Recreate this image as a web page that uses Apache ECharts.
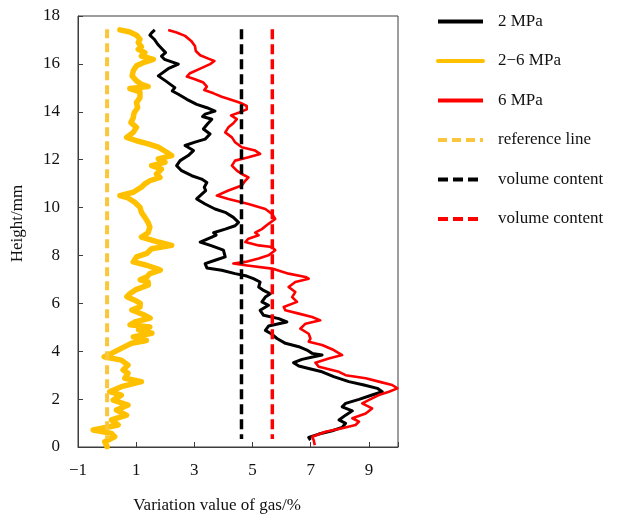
<!DOCTYPE html>
<html>
<head>
<meta charset="utf-8">
<script src="https://cdn.jsdelivr.net/npm/echarts@6/dist/echarts.min.js"></script>
<style>
  html, body { margin: 0; padding: 0; background: #fff; }
  #chart { width: 619px; height: 515px; }
</style>
</head>
<body>
<div id="chart"></div>
<script>
// Gas variation profiles along specimen height (height in mm, variation in %)
const heights2MPa = [17.42, 17.30, 17.20, 17.03, 16.82, 16.61, 16.47, 16.32, 16.19, 15.99, 15.80, 15.50, 15.29, 15.01, 14.87, 14.73, 14.52, 14.31, 14.17, 14.03, 13.90, 13.80, 13.69, 13.49, 13.28, 13.07, 12.86, 12.73, 12.59, 12.38, 12.17, 11.96, 11.75, 11.54, 11.33, 11.19, 11.05, 10.85, 10.71, 10.50, 10.36, 10.15, 9.94, 9.80, 9.59, 9.38, 9.24, 9.10, 8.95, 8.85, 8.77, 8.56, 8.40, 8.22, 7.94, 7.80, 7.66, 7.48, 7.38, 7.24, 7.14, 7.03, 6.89, 6.68, 6.54, 6.40, 6.26, 6.06, 5.92, 5.71, 5.50, 5.36, 5.22, 5.15, 5.05, 4.87, 4.73, 4.53, 4.47, 4.33, 4.19, 4.05, 3.91, 3.84, 3.77, 3.66, 3.52, 3.38, 3.28, 3.14, 2.94, 2.73, 2.59, 2.45, 2.31, 2.17, 1.99, 1.82, 1.68, 1.51, 1.33, 1.13, 0.99, 0.82, 0.68, 0.54, 0.40, 0.29];
const gas2MPa = [1.64, 1.53, 1.47, 1.62, 1.74, 1.90, 2.01, 1.87, 1.97, 2.45, 2.10, 1.76, 2.01, 2.33, 2.24, 2.45, 2.74, 3.08, 3.43, 3.71, 3.37, 3.28, 3.60, 3.45, 3.31, 3.54, 3.37, 3.02, 2.68, 2.97, 2.79, 2.51, 2.39, 2.56, 2.91, 3.25, 3.43, 3.34, 3.39, 3.20, 3.08, 3.37, 3.71, 4.06, 4.34, 4.52, 4.40, 4.06, 3.66, 3.75, 3.60, 3.20, 3.60, 4.00, 4.06, 3.71, 3.37, 3.43, 3.94, 4.40, 4.80, 5.03, 5.26, 5.21, 5.38, 5.61, 5.44, 5.32, 5.55, 5.26, 5.38, 5.90, 6.18, 5.90, 5.55, 5.44, 5.64, 5.84, 5.78, 6.13, 6.59, 6.87, 7.05, 7.39, 7.10, 6.70, 6.41, 6.59, 6.93, 7.39, 7.79, 8.31, 8.83, 9.29, 9.46, 9.11, 8.66, 8.20, 8.08, 8.43, 8.20, 7.97, 8.20, 8.08, 7.74, 7.28, 6.93, 6.99];

const heights2to6MPa = [17.42, 17.33, 17.20, 17.03, 16.89, 16.72, 16.61, 16.47, 16.33, 16.19, 16.05, 15.92, 15.71, 15.50, 15.29, 15.15, 15.05, 14.97, 14.83, 14.59, 14.38, 14.17, 13.96, 13.75, 13.55, 13.35, 13.14, 12.93, 12.79, 12.66, 12.52, 12.31, 12.17, 12.03, 11.89, 11.75, 11.61, 11.40, 11.26, 11.12, 10.99, 10.85, 10.64, 10.50, 10.40, 10.22, 10.01, 9.80, 9.59, 9.38, 9.18, 8.95, 8.77, 8.56, 8.42, 8.28, 8.09, 7.94, 7.73, 7.59, 7.45, 7.39, 7.24, 7.11, 6.98, 6.89, 6.77, 6.56, 6.40, 6.28, 6.13, 6.00, 5.85, 5.72, 5.50, 5.38, 5.22, 5.10, 5.01, 4.89, 4.75, 4.60, 4.54, 4.45, 4.33, 4.12, 3.91, 3.77, 3.63, 3.42, 3.22, 3.08, 2.87, 2.73, 2.52, 2.31, 2.17, 1.96, 1.75, 1.54, 1.33, 1.13, 0.92, 0.71, 0.57, 0.43, 0.22, 0.01];
const gas2to6MPa = [0.44, 0.78, 1.01, 1.13, 1.07, 1.18, 1.07, 1.30, 1.18, 1.59, 1.24, 1.01, 0.90, 0.86, 1.01, 1.18, 1.41, 0.78, 1.13, 1.13, 1.01, 1.05, 0.93, 0.90, 0.82, 1.01, 0.90, 0.67, 1.01, 1.41, 1.76, 2.05, 2.22, 1.76, 1.99, 1.53, 1.87, 1.70, 1.82, 1.47, 1.30, 1.18, 0.90, 0.44, 0.72, 0.95, 1.13, 1.18, 1.30, 1.41, 1.47, 1.41, 1.18, 1.76, 2.22, 1.53, 1.37, 1.01, 0.90, 1.36, 1.70, 1.83, 1.47, 1.37, 1.14, 1.41, 1.42, 0.97, 0.78, 0.68, 0.95, 1.14, 1.13, 0.85, 1.30, 1.48, 0.95, 0.79, 1.47, 1.08, 1.54, 0.90, 1.08, 1.35, 0.84, 0.49, 0.15, -0.10, 0.49, 0.72, 0.55, 0.72, 0.61, 1.18, 0.49, 0.09, 0.49, 0.21, 0.72, 0.32, 0.67, 0.15, 0.38, -0.48, 0.15, 0.26, -0.08, 0.00];

const heights6MPa = [17.42, 17.31, 17.17, 16.96, 16.75, 16.54, 16.36, 16.22, 16.12, 15.99, 15.80, 15.61, 15.47, 15.36, 15.22, 15.05, 14.91, 14.77, 14.63, 14.49, 14.38, 14.24, 14.10, 13.96, 13.85, 13.69, 13.52, 13.35, 13.14, 12.93, 12.73, 12.52, 12.38, 12.24, 12.10, 11.96, 11.75, 11.54, 11.40, 11.26, 11.12, 10.92, 10.71, 10.50, 10.36, 10.15, 9.94, 9.73, 9.52, 9.32, 9.10, 8.95, 8.84, 8.70, 8.56, 8.42, 8.35, 8.22, 8.01, 7.87, 7.73, 7.66, 7.59, 7.45, 7.24, 7.10, 7.03, 6.89, 6.68, 6.47, 6.26, 6.06, 5.85, 5.71, 5.57, 5.43, 5.29, 5.15, 4.94, 4.73, 4.53, 4.40, 4.26, 4.05, 3.84, 3.70, 3.52, 3.35, 3.14, 3.00, 2.87, 2.73, 2.59, 2.45, 2.31, 2.17, 2.03, 1.82, 1.61, 1.40, 1.20, 1.06, 0.92, 0.78, 0.64, 0.43, 0.29, 0.08];
const gas6MPa = [2.10, 2.39, 2.68, 2.89, 3.02, 3.05, 3.20, 3.48, 3.69, 3.54, 3.20, 2.85, 2.74, 3.02, 3.31, 3.43, 3.34, 3.66, 3.94, 4.29, 4.57, 4.80, 4.80, 4.52, 4.26, 4.46, 4.34, 4.17, 4.06, 4.29, 4.40, 4.63, 5.09, 5.26, 4.86, 4.40, 4.29, 4.46, 4.63, 4.86, 4.75, 4.63, 4.17, 3.77, 4.17, 4.86, 5.44, 5.67, 5.78, 5.55, 5.32, 5.09, 5.21, 4.86, 4.75, 5.21, 5.67, 5.78, 5.55, 5.21, 4.75, 4.34, 4.75, 5.67, 6.24, 6.82, 6.93, 6.47, 6.24, 6.47, 6.36, 6.53, 6.07, 6.13, 6.59, 7.05, 7.33, 6.82, 6.64, 6.93, 6.99, 6.93, 7.39, 7.79, 8.08, 7.62, 7.16, 7.28, 7.97, 8.20, 8.89, 9.34, 9.80, 9.98, 9.69, 9.34, 9.11, 8.77, 9.11, 8.89, 8.43, 8.66, 8.54, 8.08, 7.51, 7.05, 7.10, 7.14];

// Vertical guide lines: zero reference and the two volume contents
const referenceValue = 0;
const volumeContent2MPa = 4.62;
const volumeContent6MPa = 5.68;
const guideSpan = [17.45, 0.33];

const xTicks = [-1, 1, 3, 5, 7, 9];
const yTicks = [0, 2, 4, 6, 8, 10, 12, 14, 16, 18];

const FONT = "'Liberation Serif', 'Times New Roman', serif";
const YELLOW = '#FFC000';
const YELLOW_DASH = '#FAC63C';

function profile(heights, values) {
  return heights.map((h, i) => [values[i], h]);
}
function guide(x) {
  return guideSpan.map(h => [x, h]);
}
function minusSign(v) {
  return v < 0 ? '\u2212' + Math.abs(v) : String(v);
}

const chart = echarts.init(document.getElementById('chart'), null, { renderer: 'canvas' });

chart.setOption({
  animation: false,
  backgroundColor: '#fff',
  textStyle: { fontFamily: FONT },
  grid: {
    left: 78, right: 221, top: 16, bottom: 68,
    outerBoundsMode: 'none',
    containLabel: false,
    show: true, borderColor: '#3d3d3d', borderWidth: 1, backgroundColor: 'transparent'
  },
  legend: {
    orient: 'vertical',
    left: 436, top: 13,
    padding: 0,
    itemWidth: 45, itemHeight: 14, itemGap: 22.5,
    itemStyle: { opacity: 0 },
    lineStyle: { width: 4 },
    textStyle: { fontFamily: FONT, fontSize: 17, color: '#111', padding: [0, 0, 0, 10] },
    formatter: name => name.indexOf('volume content') === 0 ? 'volume content' : name,
    data: ['2 MPa', '2\u22126 MPa', '6 MPa', 'reference line', 'volume content (2 MPa)', 'volume content (6 MPa)']
  },
  xAxis: {
    type: 'value',
    min: -1, max: 10, interval: 2,
    name: 'Variation value of gas/%',
    nameLocation: 'middle', nameGap: 50,
    nameTextStyle: { fontFamily: FONT, fontSize: 17, color: '#111', padding: [0, 42, 0, 0] },
    axisLine: { show: true, onZero: false, lineStyle: { color: '#3d3d3d', width: 1 } },
    axisTick: { show: true, inside: true, length: 5, lineStyle: { color: '#3d3d3d' } },
    axisLabel: {
      fontFamily: FONT, fontSize: 17, color: '#111', margin: 15,
      formatter: v => xTicks.indexOf(v) >= 0 ? minusSign(v) : ''
    },
    splitLine: { show: false }
  },
  yAxis: {
    type: 'value',
    min: 0, max: 18, interval: 2,
    name: 'Height/mm',
    nameLocation: 'middle', nameGap: 52,
    nameTextStyle: { fontFamily: FONT, fontSize: 17, color: '#111', padding: [0, 0, 0, 16] },
    axisLine: { show: true, onZero: false, lineStyle: { color: '#3d3d3d', width: 1 } },
    axisTick: { show: true, inside: true, length: 5, lineStyle: { color: '#3d3d3d' } },
    axisLabel: {
      fontFamily: FONT, fontSize: 17, color: '#111', margin: 18,
      formatter: v => yTicks.indexOf(v) >= 0 ? String(v) : ''
    },
    splitLine: { show: false }
  },
  series: [
    {
      name: '2 MPa', type: 'line', symbol: 'none',
      data: profile(heights2MPa, gas2MPa),
      lineStyle: { color: '#000', width: 3, join: 'round' }, itemStyle: { color: '#000' }, z: 3
    },
    {
      name: '2\u22126 MPa', type: 'line', symbol: 'none',
      data: profile(heights2to6MPa, gas2to6MPa),
      lineStyle: { color: YELLOW, width: 5.5, join: 'round', cap: 'round' }, itemStyle: { color: YELLOW }, z: 2
    },
    {
      name: '6 MPa', type: 'line', symbol: 'none',
      data: profile(heights6MPa, gas6MPa),
      lineStyle: { color: '#FF0000', width: 2.6, join: 'round' }, itemStyle: { color: '#FF0000' }, z: 4
    },
    {
      name: 'reference line', type: 'line', symbol: 'none',
      data: guide(referenceValue),
      lineStyle: { color: YELLOW_DASH, width: 4, type: [9, 5] }, itemStyle: { color: YELLOW_DASH }, z: 5
    },
    {
      name: 'volume content (2 MPa)', type: 'line', symbol: 'none',
      data: guide(volumeContent2MPa),
      lineStyle: { color: '#000', width: 3.5, type: [10, 5] }, itemStyle: { color: '#000' }, z: 5
    },
    {
      name: 'volume content (6 MPa)', type: 'line', symbol: 'none',
      data: guide(volumeContent6MPa),
      lineStyle: { color: '#FF0000', width: 3.5, type: [10, 5] }, itemStyle: { color: '#FF0000' }, z: 5
    }
  ]
});
</script>
</body>
</html>
